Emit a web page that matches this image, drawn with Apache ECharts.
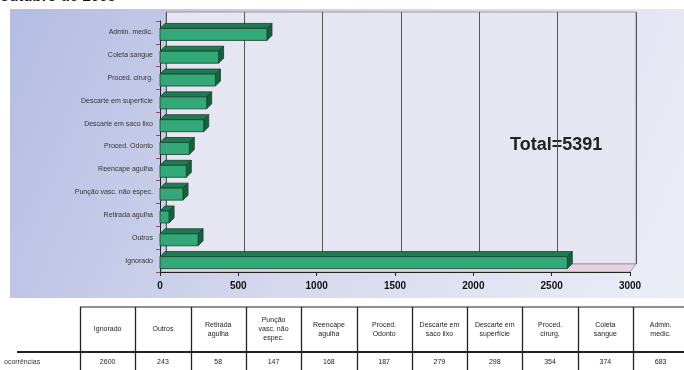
<!DOCTYPE html>
<html><head><meta charset="utf-8">
<script src="https://cdn.jsdelivr.net/npm/echarts@6/dist/echarts.min.js"></script>
<style>html,body{margin:0;padding:0;background:#fff}#c{width:684px;height:370px}</style>
</head><body><div id="c"></div>
<script>
const categories = ["Ignorado","Outros","Retirada agulha","Punção vasc. não espec.","Reencape agulha","Proced. Odonto","Descarte em saco lixo","Descarte em superfície","Proced. cirurg.","Coleta sangue","Admin. medic."];
const tableHeaders = ["Ignorado","Outros","Retirada\nagulha","Punção\nvasc. não\nespec.","Reencape\nagulha","Proced.\nOdonto","Descarte em\nsaco lixo","Descarte em\nsuperfície","Proced.\ncirurg.","Coleta\nsangue","Admin.\nmedic."];
const values = [2600,243,58,147,168,187,279,298,354,374,683];
const xTicks = [0,500,1000,1500,2000,2500,3000];
const rowLabel = "ocorrências";
const titleText = "outubro de 2005";
const totalText = "Total=5391";

const chart = echarts.init(document.getElementById('c'));
const F = 'Liberation Sans';

function renderBar(params, api) {
  const cat = api.value(1);
  const p0 = api.coord([0, cat]);
  const p1 = api.coord([api.value(0), cat]);
  const h = 12, d = 5;
  const x0 = p0[0], x1 = p1[0], yt = p0[1] - 4;
  const stroke = '#17402c';
  return {type:'group', children:[
    {type:'polygon', shape:{points:[[x0,yt],[x0+d,yt-d],[x1+d,yt-d],[x1,yt]]}, style:{fill:'#1f7a52', stroke:stroke, lineWidth:0.8}},
    {type:'polygon', shape:{points:[[x1,yt],[x1+d,yt-d],[x1+d,yt+h-d],[x1,yt+h]]}, style:{fill:'#185f40', stroke:stroke, lineWidth:0.8}},
    {type:'rect', shape:{x:x0, y:yt, width:x1-x0, height:h}, style:{fill:'#33a878', stroke:stroke, lineWidth:0.8}}
  ]};
}

// table graphics
const tbl = [];
const colX0 = 80, colW = 55.3, tTop = 307, tMid = 352, tBot = 372;
tbl.push({type:'rect', shape:{x:0,y:300,width:684,height:70}, style:{fill:'#ffffff'}, z:-5});
tbl.push({type:'line', shape:{x1:colX0,y1:tTop,x2:684,y2:tTop}, style:{stroke:'#222',lineWidth:1}});
tbl.push({type:'line', shape:{x1:17,y1:tMid,x2:684,y2:tMid}, style:{stroke:'#222',lineWidth:2}});
for (let i = 0; i <= tableHeaders.length; i++) {
  const x = Math.round(colX0 + i*colW) + 0.5;
  tbl.push({type:'line', shape:{x1:x,y1:tTop,x2:x,y2:tBot}, style:{stroke:'#222',lineWidth:1.3}});
}
tableHeaders.forEach((t,i)=>{
  const cx = colX0 + (i+0.5)*colW;
  tbl.push({type:'text', x:cx, y:(tTop+tMid)/2, style:{text:t, fill:'#222', font:'7px '+F, align:'center', verticalAlign:'middle', lineHeight:9}});
  tbl.push({type:'text', x:cx, y:362, style:{text:String(values[i]), fill:'#222', font:'7px '+F, align:'center', verticalAlign:'middle'}});
});
tbl.push({type:'text', x:4, y:362, style:{text:rowLabel, fill:'#333', font:'7px '+F, align:'left', verticalAlign:'middle'}});

chart.setOption({
  animation:false,
  backgroundColor:'#ffffff',
  graphic:[
    {type:'rect', shape:{x:10,y:9,width:674,height:289}, z:-20,
     style:{fill:new echarts.graphic.LinearGradient(0,0,1,1,[{offset:0,color:'#b4bce2'},{offset:0.5,color:'#d6d9ee'},{offset:1,color:'#eceef6'}])}},
    {type:'polygon', shape:{points:[[160,272],[166,264],[636,264],[630,272]]}, style:{fill:'#e6d3e2', stroke:'#777', lineWidth:0.6}, z:-1},
    {type:'text', x:0, y:-11, style:{text:titleText, fill:'#111', font:'bold 15px '+F}},
    {type:'text', x:510, y:145, style:{text:totalText, fill:'#222', font:'bold 18px '+F, verticalAlign:'middle'}},
    ...tbl
  ],
  grid:[
    {left:166, right:48, top:12, bottom:106, show:true, backgroundColor:'#e6e6f2', borderColor:'#888', borderWidth:0.8, z:-2},
    {left:160, right:54, top:21, bottom:98}
  ],
  xAxis:[
    {gridIndex:0, type:'value', min:0, max:3000, interval:500, axisLine:{show:false}, axisTick:{show:false}, axisLabel:{show:false},
     splitLine:{show:true, lineStyle:{color:'#555', width:1}}},
    {gridIndex:1, type:'value', min:0, max:3000, interval:500,
     axisLine:{show:true, lineStyle:{color:'#222', width:1.2}},
     axisTick:{show:true, length:4, lineStyle:{color:'#222'}},
     axisLabel:{color:'#111', fontFamily:F, fontWeight:'bold', fontSize:10, margin:9,
       formatter: v => xTicks.includes(v) ? String(v) : ''},
     splitLine:{show:false}}
  ],
  yAxis:[
    {gridIndex:0, type:'category', data:categories, show:false},
    {gridIndex:1, type:'category', data:categories,
     axisLine:{show:true, lineStyle:{color:'#222', width:1}},
     axisTick:{show:true, length:4, lineStyle:{color:'#8a5060'}},
     axisLabel:{color:'#333', fontFamily:F, fontSize:7, margin:7}}
  ],
  series:[{
    type:'custom', xAxisIndex:1, yAxisIndex:1, renderItem:renderBar,
    encode:{x:0, y:1},
    data: values.map((v,i)=>[v,i])
  }]
});
</script></body></html>
